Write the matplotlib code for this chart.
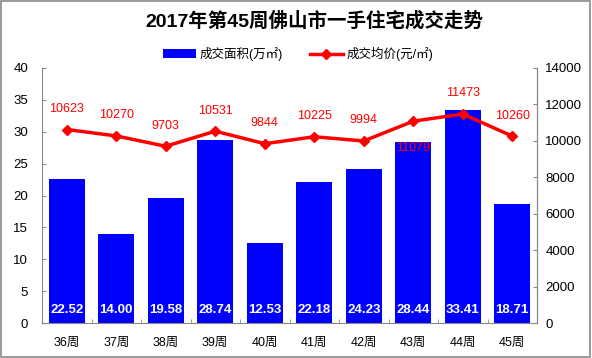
import numpy as np
import matplotlib.pyplot as plt

plt.rcParams['font.family'] = ['Liberation Sans', 'Noto Sans CJK SC']

weeks = ['36周', '37周', '38周', '39周', '40周', '41周', '42周', '43周', '44周', '45周']
area = [22.52, 14.00, 19.58, 28.74, 12.53, 22.18, 24.23, 28.44, 33.41, 18.71]
price = [10623, 10270, 9703, 10531, 9844, 10225, 9994, 11079, 11473, 10260]

fig = plt.figure(figsize=(5.92, 3.58), dpi=100)
ax = fig.add_axes([42 / 592, 1 - 323 / 358, (537 - 42) / 592, (323 - 68) / 358])
x = np.arange(len(weeks))

ax.bar(x, area, width=0.72, color='#0000ff', label='成交面积(万㎡)', zorder=2)
for xi, v in zip(x, area):
    ax.text(xi, 2.0, f'{v:.2f}', color='white', fontsize=9.5, fontweight='bold',
            ha='center', va='center', zorder=5)

ax.set_xlim(-0.5, len(weeks) - 0.5)
ax.set_ylim(0, 40)
ax.set_yticks(range(0, 41, 5))
ax.set_xticks(x)
ax.set_xticklabels(weeks, fontsize=9)
ax.set_xticks(np.arange(-0.5, len(weeks), 1), minor=True)
ax.tick_params(axis='x', which='major', length=0, pad=10)
ax.tick_params(axis='x', which='minor', length=3, direction='in', color='#888888')
ax.tick_params(axis='y', length=3, direction='in', labelsize=9.5, color='#888888', pad=10)
ax.spines['top'].set_visible(False)
for s in ['left', 'bottom', 'right']:
    ax.spines[s].set_color('#888888')

ax2 = ax.twinx()
ax2.plot(x, price, color='#ff0000', lw=2.5, marker='D', ms=5, label='成交均价(元/㎡)', zorder=4)
ax2.set_ylim(0, 14000)
ax2.set_yticks(range(0, 14001, 2000))
ax2.tick_params(axis='y', length=3, direction='in', labelsize=9.5, color='#888888', pad=6)
ax2.spines['top'].set_visible(False)
ax2.spines['right'].set_color('#888888')
ax2.spines['left'].set_visible(False)
ax2.spines['bottom'].set_visible(False)
for xi, v in zip(x, price):
    if weeks[xi] == '43周':
        ax2.text(xi, v - 1150, str(v), color='#ff0000', fontsize=9, ha='center', va='top')
    else:
        ax2.text(xi, v + 800, str(v), color='#ff0000', fontsize=9, ha='center', va='bottom')

h1, l1 = ax.get_legend_handles_labels()
h2, l2 = ax2.get_legend_handles_labels()
fig.legend(h1 + h2, l1 + l2, loc='center', bbox_to_anchor=(298 / 592, 1 - 54 / 358), ncol=2,
           frameon=False, fontsize=9, handlelength=2.6, columnspacing=2.2, handletextpad=0.3)

fig.text(314 / 592, 1 - 21 / 358, '2017年第45周佛山市一手住宅成交走势', ha='center', va='center',
         fontsize=14, fontweight='bold')

fig.patches.append(plt.Rectangle((0.002, 0.003), 0.995, 0.994, transform=fig.transFigure,
                                 fill=False, edgecolor='#888888', lw=1.2))

fig.savefig('out.png', dpi=100)
